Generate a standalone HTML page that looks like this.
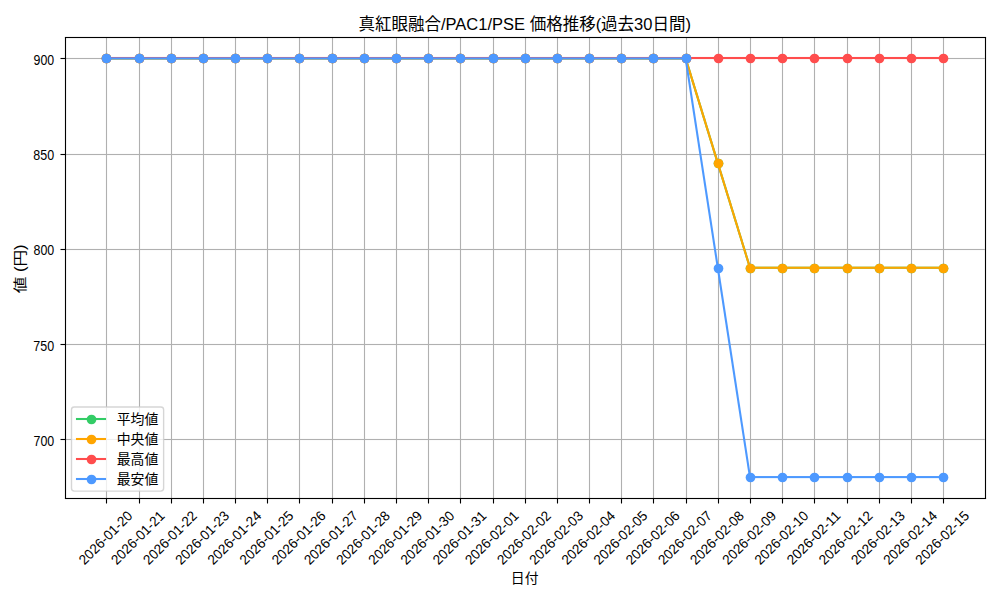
<!DOCTYPE html>
<html lang="ja"><head><meta charset="utf-8"><title>真紅眼融合/PAC1/PSE 価格推移(過去30日間)</title>
<style>html,body{margin:0;padding:0;background:#fff;overflow:hidden}svg{display:block;font-family:"Liberation Sans","Noto Sans CJK JP",sans-serif}.t{fill:#000;stroke:none;font-family:"Liberation Sans","Noto Sans CJK JP",sans-serif}.g{stroke:#b0b0b0;stroke-width:1.111;fill:none}.k{stroke:#000;stroke-width:1.111;fill:none}.s{fill:none;stroke-width:2.083;stroke-linejoin:round;stroke-linecap:square}</style></head><body>
<svg width="1000" height="600" viewBox="0 0 1000 600" role="img" aria-label="真紅眼融合/PAC1/PSE 価格推移(過去30日間)">
<rect width="1000" height="600" fill="#fff"/>
<clipPath id="ax"><rect x="64.55" y="37.49" width="920.35" height="460.53"/></clipPath>
<g clip-path="url(#ax)"><path class="g" d="M106.5 37.49V498.02 M139.5 37.49V498.02 M171.5 37.49V498.02 M203.5 37.49V498.02 M235.5 37.49V498.02 M267.5 37.49V498.02 M299.5 37.49V498.02 M332.5 37.49V498.02 M364.5 37.49V498.02 M396.5 37.49V498.02 M428.5 37.49V498.02 M460.5 37.49V498.02 M493.5 37.49V498.02 M525.5 37.49V498.02 M557.5 37.49V498.02 M589.5 37.49V498.02 M621.5 37.49V498.02 M653.5 37.49V498.02 M686.5 37.49V498.02 M718.5 37.49V498.02 M750.5 37.49V498.02 M782.5 37.49V498.02 M814.5 37.49V498.02 M847.5 37.49V498.02 M879.5 37.49V498.02 M911.5 37.49V498.02 M943.5 37.49V498.02"/>
<rect x="64.55" y="57" width="920.35" height="1" fill="#b0b0b0" fill-opacity="0.056"/><rect x="64.55" y="58" width="920.35" height="1" fill="#b0b0b0"/><rect x="64.55" y="59" width="920.35" height="1" fill="#b0b0b0" fill-opacity="0.056"/>
<rect x="64.55" y="153" width="920.35" height="1" fill="#b0b0b0" fill-opacity="0.055"/><rect x="64.55" y="154" width="920.35" height="1" fill="#b0b0b0"/><rect x="64.55" y="155" width="920.35" height="1" fill="#b0b0b0" fill-opacity="0.055"/>
<rect x="64.55" y="248" width="920.35" height="1" fill="#b0b0b0" fill-opacity="0.055"/><rect x="64.55" y="249" width="920.35" height="1" fill="#b0b0b0"/><rect x="64.55" y="250" width="920.35" height="1" fill="#b0b0b0" fill-opacity="0.055"/>
<rect x="64.55" y="343" width="920.35" height="1" fill="#b0b0b0" fill-opacity="0.055"/><rect x="64.55" y="344" width="920.35" height="1" fill="#b0b0b0"/><rect x="64.55" y="345" width="920.35" height="1" fill="#b0b0b0" fill-opacity="0.055"/>
<rect x="64.55" y="438" width="920.35" height="1" fill="#b0b0b0" fill-opacity="0.055"/><rect x="64.55" y="439" width="920.35" height="1" fill="#b0b0b0"/><rect x="64.55" y="440" width="920.35" height="1" fill="#b0b0b0" fill-opacity="0.055"/>
<rect x="105.343" y="57" width="580.283" height="1" fill="#33cc66" fill-opacity="0.621"/><rect x="105.343" y="58" width="580.283" height="1" fill="#33cc66"/><rect x="105.343" y="59" width="580.283" height="1" fill="#33cc66" fill-opacity="0.462"/><line class="s" stroke="#33cc66" x1="685.625" y1="58.42" x2="717.805" y2="163.085"/><line class="s" stroke="#33cc66" x1="717.805" y1="163.085" x2="749.985" y2="267.75"/><rect x="749.985" y="266" width="194.122" height="1" fill="#33cc66" fill-opacity="0.291"/><rect x="749.985" y="267" width="194.122" height="1" fill="#33cc66"/><rect x="749.985" y="268" width="194.122" height="1" fill="#33cc66" fill-opacity="0.791"/><g fill="#33cc66"><circle cx="106.5" cy="58.5" r="4.861"/><circle cx="139.5" cy="58.5" r="4.861"/><circle cx="171.5" cy="58.5" r="4.861"/><circle cx="203.5" cy="58.5" r="4.861"/><circle cx="235.5" cy="58.5" r="4.861"/><circle cx="267.5" cy="58.5" r="4.861"/><circle cx="299.5" cy="58.5" r="4.861"/><circle cx="332.5" cy="58.5" r="4.861"/><circle cx="364.5" cy="58.5" r="4.861"/><circle cx="396.5" cy="58.5" r="4.861"/><circle cx="428.5" cy="58.5" r="4.861"/><circle cx="460.5" cy="58.5" r="4.861"/><circle cx="493.5" cy="58.5" r="4.861"/><circle cx="525.5" cy="58.5" r="4.861"/><circle cx="557.5" cy="58.5" r="4.861"/><circle cx="589.5" cy="58.5" r="4.861"/><circle cx="621.5" cy="58.5" r="4.861"/><circle cx="653.5" cy="58.5" r="4.861"/><circle cx="686.5" cy="58.5" r="4.861"/><circle cx="718.5" cy="163.5" r="4.861"/><circle cx="750.5" cy="268.5" r="4.861"/><circle cx="782.5" cy="268.5" r="4.861"/><circle cx="814.5" cy="268.5" r="4.861"/><circle cx="847.5" cy="268.5" r="4.861"/><circle cx="879.5" cy="268.5" r="4.861"/><circle cx="911.5" cy="268.5" r="4.861"/><circle cx="943.5" cy="268.5" r="4.861"/></g>
<rect x="105.343" y="57" width="580.283" height="1" fill="#ffa500" fill-opacity="0.621"/><rect x="105.343" y="58" width="580.283" height="1" fill="#ffa500"/><rect x="105.343" y="59" width="580.283" height="1" fill="#ffa500" fill-opacity="0.462"/><line class="s" stroke="#ffa500" x1="685.625" y1="58.42" x2="717.805" y2="163.085"/><line class="s" stroke="#ffa500" x1="717.805" y1="163.085" x2="749.985" y2="267.75"/><rect x="749.985" y="266" width="194.122" height="1" fill="#ffa500" fill-opacity="0.291"/><rect x="749.985" y="267" width="194.122" height="1" fill="#ffa500"/><rect x="749.985" y="268" width="194.122" height="1" fill="#ffa500" fill-opacity="0.791"/><g fill="#ffa500"><circle cx="106.5" cy="58.5" r="4.861"/><circle cx="139.5" cy="58.5" r="4.861"/><circle cx="171.5" cy="58.5" r="4.861"/><circle cx="203.5" cy="58.5" r="4.861"/><circle cx="235.5" cy="58.5" r="4.861"/><circle cx="267.5" cy="58.5" r="4.861"/><circle cx="299.5" cy="58.5" r="4.861"/><circle cx="332.5" cy="58.5" r="4.861"/><circle cx="364.5" cy="58.5" r="4.861"/><circle cx="396.5" cy="58.5" r="4.861"/><circle cx="428.5" cy="58.5" r="4.861"/><circle cx="460.5" cy="58.5" r="4.861"/><circle cx="493.5" cy="58.5" r="4.861"/><circle cx="525.5" cy="58.5" r="4.861"/><circle cx="557.5" cy="58.5" r="4.861"/><circle cx="589.5" cy="58.5" r="4.861"/><circle cx="621.5" cy="58.5" r="4.861"/><circle cx="653.5" cy="58.5" r="4.861"/><circle cx="686.5" cy="58.5" r="4.861"/><circle cx="718.5" cy="163.5" r="4.861"/><circle cx="750.5" cy="268.5" r="4.861"/><circle cx="782.5" cy="268.5" r="4.861"/><circle cx="814.5" cy="268.5" r="4.861"/><circle cx="847.5" cy="268.5" r="4.861"/><circle cx="879.5" cy="268.5" r="4.861"/><circle cx="911.5" cy="268.5" r="4.861"/><circle cx="943.5" cy="268.5" r="4.861"/></g>
<rect x="104.959" y="56" width="839.083" height="1" fill="#ff4d4d" fill-opacity="0.041"/><rect x="104.959" y="57" width="839.083" height="1" fill="#ff4d4d"/><rect x="104.959" y="58" width="839.083" height="1" fill="#ff4d4d"/><rect x="104.959" y="59" width="839.083" height="1" fill="#ff4d4d" fill-opacity="0.041"/><g fill="#ff4d4d"><circle cx="106.5" cy="58.5" r="4.861"/><circle cx="139.5" cy="58.5" r="4.861"/><circle cx="171.5" cy="58.5" r="4.861"/><circle cx="203.5" cy="58.5" r="4.861"/><circle cx="235.5" cy="58.5" r="4.861"/><circle cx="267.5" cy="58.5" r="4.861"/><circle cx="299.5" cy="58.5" r="4.861"/><circle cx="332.5" cy="58.5" r="4.861"/><circle cx="364.5" cy="58.5" r="4.861"/><circle cx="396.5" cy="58.5" r="4.861"/><circle cx="428.5" cy="58.5" r="4.861"/><circle cx="460.5" cy="58.5" r="4.861"/><circle cx="493.5" cy="58.5" r="4.861"/><circle cx="525.5" cy="58.5" r="4.861"/><circle cx="557.5" cy="58.5" r="4.861"/><circle cx="589.5" cy="58.5" r="4.861"/><circle cx="621.5" cy="58.5" r="4.861"/><circle cx="653.5" cy="58.5" r="4.861"/><circle cx="686.5" cy="58.5" r="4.861"/><circle cx="718.5" cy="58.5" r="4.861"/><circle cx="750.5" cy="58.5" r="4.861"/><circle cx="782.5" cy="58.5" r="4.861"/><circle cx="814.5" cy="58.5" r="4.861"/><circle cx="847.5" cy="58.5" r="4.861"/><circle cx="879.5" cy="58.5" r="4.861"/><circle cx="911.5" cy="58.5" r="4.861"/><circle cx="943.5" cy="58.5" r="4.861"/></g>
<rect x="105.343" y="57" width="580.283" height="1" fill="#4d99ff" fill-opacity="0.621"/><rect x="105.343" y="58" width="580.283" height="1" fill="#4d99ff"/><rect x="105.343" y="59" width="580.283" height="1" fill="#4d99ff" fill-opacity="0.462"/><line class="s" stroke="#4d99ff" x1="685.625" y1="58.42" x2="717.805" y2="267.75"/><line class="s" stroke="#4d99ff" x1="717.805" y1="267.75" x2="749.985" y2="477.08"/><rect x="749.985" y="476" width="194.122" height="1" fill="#4d99ff" fill-opacity="0.961"/><rect x="749.985" y="477" width="194.122" height="1" fill="#4d99ff"/><rect x="749.985" y="478" width="194.122" height="1" fill="#4d99ff" fill-opacity="0.122"/><g fill="#4d99ff"><circle cx="106.5" cy="58.5" r="4.861"/><circle cx="139.5" cy="58.5" r="4.861"/><circle cx="171.5" cy="58.5" r="4.861"/><circle cx="203.5" cy="58.5" r="4.861"/><circle cx="235.5" cy="58.5" r="4.861"/><circle cx="267.5" cy="58.5" r="4.861"/><circle cx="299.5" cy="58.5" r="4.861"/><circle cx="332.5" cy="58.5" r="4.861"/><circle cx="364.5" cy="58.5" r="4.861"/><circle cx="396.5" cy="58.5" r="4.861"/><circle cx="428.5" cy="58.5" r="4.861"/><circle cx="460.5" cy="58.5" r="4.861"/><circle cx="493.5" cy="58.5" r="4.861"/><circle cx="525.5" cy="58.5" r="4.861"/><circle cx="557.5" cy="58.5" r="4.861"/><circle cx="589.5" cy="58.5" r="4.861"/><circle cx="621.5" cy="58.5" r="4.861"/><circle cx="653.5" cy="58.5" r="4.861"/><circle cx="686.5" cy="58.5" r="4.861"/><circle cx="718.5" cy="268.5" r="4.861"/><circle cx="750.5" cy="477.5" r="4.861"/><circle cx="782.5" cy="477.5" r="4.861"/><circle cx="814.5" cy="477.5" r="4.861"/><circle cx="847.5" cy="477.5" r="4.861"/><circle cx="879.5" cy="477.5" r="4.861"/><circle cx="911.5" cy="477.5" r="4.861"/><circle cx="943.5" cy="477.5" r="4.861"/></g>
</g>
<path class="k" d="M106.5 498.5v5 M139.5 498.5v5 M171.5 498.5v5 M203.5 498.5v5 M235.5 498.5v5 M267.5 498.5v5 M299.5 498.5v5 M332.5 498.5v5 M364.5 498.5v5 M396.5 498.5v5 M428.5 498.5v5 M460.5 498.5v5 M493.5 498.5v5 M525.5 498.5v5 M557.5 498.5v5 M589.5 498.5v5 M621.5 498.5v5 M653.5 498.5v5 M686.5 498.5v5 M718.5 498.5v5 M750.5 498.5v5 M782.5 498.5v5 M814.5 498.5v5 M847.5 498.5v5 M879.5 498.5v5 M911.5 498.5v5 M943.5 498.5v5"/>
<rect x="60.5" y="57" width="5" height="1" fill="#000" fill-opacity="0.056"/><rect x="60.5" y="58" width="5" height="1" fill="#000"/><rect x="60.5" y="59" width="5" height="1" fill="#000" fill-opacity="0.056"/>
<rect x="60.5" y="153" width="5" height="1" fill="#000" fill-opacity="0.055"/><rect x="60.5" y="154" width="5" height="1" fill="#000"/><rect x="60.5" y="155" width="5" height="1" fill="#000" fill-opacity="0.055"/>
<rect x="60.5" y="248" width="5" height="1" fill="#000" fill-opacity="0.055"/><rect x="60.5" y="249" width="5" height="1" fill="#000"/><rect x="60.5" y="250" width="5" height="1" fill="#000" fill-opacity="0.055"/>
<rect x="60.5" y="343" width="5" height="1" fill="#000" fill-opacity="0.055"/><rect x="60.5" y="344" width="5" height="1" fill="#000"/><rect x="60.5" y="345" width="5" height="1" fill="#000" fill-opacity="0.055"/>
<rect x="60.5" y="438" width="5" height="1" fill="#000" fill-opacity="0.055"/><rect x="60.5" y="439" width="5" height="1" fill="#000"/><rect x="60.5" y="440" width="5" height="1" fill="#000" fill-opacity="0.055"/>
<path class="k" stroke-linecap="square" d="M65.5 498.5V37.5 M985.5 498.5V37.5"/>
<rect x="64.945" y="497" width="921.11" height="1" fill="#000" fill-opacity="0.055"/><rect x="64.945" y="498" width="921.11" height="1" fill="#000"/><rect x="64.945" y="499" width="921.11" height="1" fill="#000" fill-opacity="0.055"/>
<rect x="64.945" y="36" width="921.11" height="1" fill="#000" fill-opacity="0.056"/><rect x="64.945" y="37" width="921.11" height="1" fill="#000"/><rect x="64.945" y="38" width="921.11" height="1" fill="#000" fill-opacity="0.056"/>
<g transform="translate(84.486 565.518) rotate(-45)"><text font-size="13.889" textLength="69.25" lengthAdjust="spacingAndGlyphs" class="t">2026-01-20</text></g>
<g transform="translate(116.666 565.518) rotate(-45)"><text font-size="13.889" textLength="69.25" lengthAdjust="spacingAndGlyphs" class="t">2026-01-21</text></g>
<g transform="translate(148.802 565.606) rotate(-45)"><text font-size="13.889" textLength="69.375" lengthAdjust="spacingAndGlyphs" class="t">2026-01-22</text></g>
<g transform="translate(180.982 565.606) rotate(-45)"><text font-size="13.889" textLength="69.375" lengthAdjust="spacingAndGlyphs" class="t">2026-01-23</text></g>
<g transform="translate(213.162 565.606) rotate(-45)"><text font-size="13.889" textLength="69.375" lengthAdjust="spacingAndGlyphs" class="t">2026-01-24</text></g>
<g transform="translate(245.342 565.606) rotate(-45)"><text font-size="13.889" textLength="69.375" lengthAdjust="spacingAndGlyphs" class="t">2026-01-25</text></g>
<g transform="translate(277.522 565.606) rotate(-45)"><text font-size="13.889" textLength="69.375" lengthAdjust="spacingAndGlyphs" class="t">2026-01-26</text></g>
<g transform="translate(309.702 565.606) rotate(-45)"><text font-size="13.889" textLength="69.375" lengthAdjust="spacingAndGlyphs" class="t">2026-01-27</text></g>
<g transform="translate(341.882 565.606) rotate(-45)"><text font-size="13.889" textLength="69.375" lengthAdjust="spacingAndGlyphs" class="t">2026-01-28</text></g>
<g transform="translate(374.107 565.518) rotate(-45)"><text font-size="13.889" textLength="69.25" lengthAdjust="spacingAndGlyphs" class="t">2026-01-29</text></g>
<g transform="translate(406.287 565.518) rotate(-45)"><text font-size="13.889" textLength="69.25" lengthAdjust="spacingAndGlyphs" class="t">2026-01-30</text></g>
<g transform="translate(438.467 565.518) rotate(-45)"><text font-size="13.889" textLength="69.25" lengthAdjust="spacingAndGlyphs" class="t">2026-01-31</text></g>
<g transform="translate(470.647 565.518) rotate(-45)"><text font-size="13.889" textLength="69.25" lengthAdjust="spacingAndGlyphs" class="t">2026-02-01</text></g>
<g transform="translate(502.783 565.606) rotate(-45)"><text font-size="13.889" textLength="69.375" lengthAdjust="spacingAndGlyphs" class="t">2026-02-02</text></g>
<g transform="translate(534.963 565.606) rotate(-45)"><text font-size="13.889" textLength="69.375" lengthAdjust="spacingAndGlyphs" class="t">2026-02-03</text></g>
<g transform="translate(567.143 565.606) rotate(-45)"><text font-size="13.889" textLength="69.375" lengthAdjust="spacingAndGlyphs" class="t">2026-02-04</text></g>
<g transform="translate(599.323 565.606) rotate(-45)"><text font-size="13.889" textLength="69.375" lengthAdjust="spacingAndGlyphs" class="t">2026-02-05</text></g>
<g transform="translate(631.503 565.606) rotate(-45)"><text font-size="13.889" textLength="69.375" lengthAdjust="spacingAndGlyphs" class="t">2026-02-06</text></g>
<g transform="translate(663.683 565.606) rotate(-45)"><text font-size="13.889" textLength="69.375" lengthAdjust="spacingAndGlyphs" class="t">2026-02-07</text></g>
<g transform="translate(695.863 565.606) rotate(-45)"><text font-size="13.889" textLength="69.375" lengthAdjust="spacingAndGlyphs" class="t">2026-02-08</text></g>
<g transform="translate(728.087 565.518) rotate(-45)"><text font-size="13.889" textLength="69.25" lengthAdjust="spacingAndGlyphs" class="t">2026-02-09</text></g>
<g transform="translate(760.268 565.518) rotate(-45)"><text font-size="13.889" textLength="69.25" lengthAdjust="spacingAndGlyphs" class="t">2026-02-10</text></g>
<g transform="translate(792.448 565.518) rotate(-45)"><text font-size="13.889" textLength="69.25" lengthAdjust="spacingAndGlyphs" class="t">2026-02-11</text></g>
<g transform="translate(824.583 565.606) rotate(-45)"><text font-size="13.889" textLength="69.375" lengthAdjust="spacingAndGlyphs" class="t">2026-02-12</text></g>
<g transform="translate(856.764 565.606) rotate(-45)"><text font-size="13.889" textLength="69.375" lengthAdjust="spacingAndGlyphs" class="t">2026-02-13</text></g>
<g transform="translate(888.944 565.606) rotate(-45)"><text font-size="13.889" textLength="69.375" lengthAdjust="spacingAndGlyphs" class="t">2026-02-14</text></g>
<g transform="translate(921.124 565.606) rotate(-45)"><text font-size="13.889" textLength="69.375" lengthAdjust="spacingAndGlyphs" class="t">2026-02-15</text></g>
<g transform="translate(510.85 583)"><text font-size="13.889" textLength="27.75" lengthAdjust="spacingAndGlyphs" class="t">日付</text></g>
<g transform="translate(33.478 446)"><text font-size="13.889" textLength="20.75" lengthAdjust="spacingAndGlyphs" class="t">700</text></g>
<g transform="translate(33.353 351)"><text font-size="13.889" textLength="20.875" lengthAdjust="spacingAndGlyphs" class="t">750</text></g>
<g transform="translate(33.478 255)"><text font-size="13.889" textLength="20.75" lengthAdjust="spacingAndGlyphs" class="t">800</text></g>
<g transform="translate(33.353 160)"><text font-size="13.889" textLength="20.875" lengthAdjust="spacingAndGlyphs" class="t">850</text></g>
<g transform="translate(33.603 65)"><text font-size="13.889" textLength="20.625" lengthAdjust="spacingAndGlyphs" class="t">900</text></g>
<g transform="translate(25 293.225) rotate(-90)"><text font-size="13.889" textLength="48.75" lengthAdjust="spacingAndGlyphs" class="t">値 (円)</text></g>
<g transform="translate(358.475 30)"><text font-size="16.667" textLength="332.5" lengthAdjust="spacingAndGlyphs" class="t">真紅眼融合/PAC1/PSE 価格推移(過去30日間)</text></g>
<rect x="71.494" y="407.056" width="92.125" height="84.02" rx="2.778" ry="2.778" fill="#fff" fill-opacity="0.8" stroke="#ccc" stroke-opacity="0.8" stroke-width="1.389"/>
<rect x="75.959" y="417" width="30.083" height="1" fill="#33cc66" fill-opacity="0.041"/><rect x="75.959" y="418" width="30.083" height="1" fill="#33cc66"/><rect x="75.959" y="419" width="30.083" height="1" fill="#33cc66"/><rect x="75.959" y="420" width="30.083" height="1" fill="#33cc66" fill-opacity="0.041"/><circle fill="#33cc66" cx="91.5" cy="419.5" r="4.861"/>
<g transform="translate(116.639 424)"><text font-size="13.889" textLength="41.625" lengthAdjust="spacingAndGlyphs" class="t">平均値</text></g>
<rect x="75.959" y="437" width="30.083" height="1" fill="#ffa500" fill-opacity="0.041"/><rect x="75.959" y="438" width="30.083" height="1" fill="#ffa500"/><rect x="75.959" y="439" width="30.083" height="1" fill="#ffa500"/><rect x="75.959" y="440" width="30.083" height="1" fill="#ffa500" fill-opacity="0.041"/><circle fill="#ffa500" cx="91.5" cy="439.5" r="4.861"/>
<g transform="translate(116.639 444)"><text font-size="13.889" textLength="41.625" lengthAdjust="spacingAndGlyphs" class="t">中央値</text></g>
<rect x="75.959" y="457" width="30.083" height="1" fill="#ff4d4d" fill-opacity="0.041"/><rect x="75.959" y="458" width="30.083" height="1" fill="#ff4d4d"/><rect x="75.959" y="459" width="30.083" height="1" fill="#ff4d4d"/><rect x="75.959" y="460" width="30.083" height="1" fill="#ff4d4d" fill-opacity="0.041"/><circle fill="#ff4d4d" cx="91.5" cy="459.5" r="4.861"/>
<g transform="translate(116.639 464)"><text font-size="13.889" textLength="41.625" lengthAdjust="spacingAndGlyphs" class="t">最高値</text></g>
<rect x="75.959" y="477" width="30.083" height="1" fill="#4d99ff" fill-opacity="0.041"/><rect x="75.959" y="478" width="30.083" height="1" fill="#4d99ff"/><rect x="75.959" y="479" width="30.083" height="1" fill="#4d99ff"/><rect x="75.959" y="480" width="30.083" height="1" fill="#4d99ff" fill-opacity="0.041"/><circle fill="#4d99ff" cx="91.5" cy="479.5" r="4.861"/>
<g transform="translate(116.639 484)"><text font-size="13.889" textLength="41.625" lengthAdjust="spacingAndGlyphs" class="t">最安値</text></g>
</svg></body></html>
